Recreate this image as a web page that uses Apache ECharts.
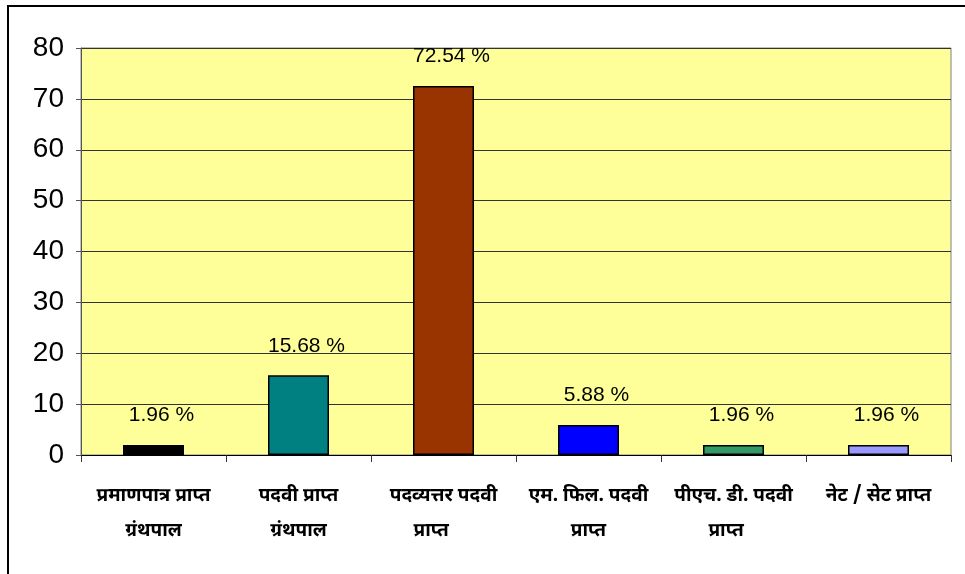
<!DOCTYPE html>
<html><head><meta charset="utf-8">
<script src="https://cdn.jsdelivr.net/npm/echarts@6/dist/echarts.min.js"></script>
<style>html,body{margin:0;padding:0;background:#fff}#c{width:965px;height:574px}</style>
</head><body><div id="c"></div>
<script>
const categories = ['प्रमाणपात्र प्राप्त\nग्रंथपाल', 'पदवी प्राप्त\nग्रंथपाल', 'पदव्यत्तर पदवी\nप्राप्त     ', 'एम. फिल. पदवी\nप्राप्त', 'पीएच. डी. पदवी\nप्राप्त   ', 'नेट / सेट प्राप्त'];
const values = [1.96, 15.68, 72.54, 5.88, 1.96, 1.96];
const barColors = ['#000000', '#008080', '#993300', '#0000FF', '#339966', '#9999FF'];
const yTicks = {min: 0, max: 80, interval: 10};

const chart = echarts.init(document.getElementById('c'), null, {renderer: 'canvas'});
chart.setOption({
  animation: false,
  graphic: [{type: 'rect', shape: {x: 8, y: 6, width: 1200, height: 1200}, style: {fill: 'none', stroke: '#000', lineWidth: 2}, z: 100}],
  grid: {left: 81, top: 48, right: 14, bottom: 119, show: true, backgroundColor: '#FFFF99', borderColor: '#808080', borderWidth: 1},
  xAxis: {
    type: 'category', data: categories,
    axisLine: {lineStyle: {color: '#000', width: 1}},
    axisTick: {show: true, alignWithLabel: false, length: 7, lineStyle: {color: '#333'}},
    axisLabel: {interval: 0, margin: 25, color: '#000', fontSize: 19, fontWeight: 'bold', lineHeight: 35,
      fontFamily: '"Noto Sans Devanagari", "Lohit Devanagari", "Noto Sans", sans-serif'}
  },
  yAxis: {
    type: 'value', min: yTicks.min, max: yTicks.max, interval: yTicks.interval,
    axisLine: {show: true, lineStyle: {color: '#555'}},
    axisTick: {show: true, length: 5, lineStyle: {color: '#555'}},
    splitLine: {lineStyle: {color: '#333', width: 1}},
    axisLabel: {color: '#000', fontSize: 28, margin: 17, fontFamily: '"Liberation Sans", Arial, sans-serif'}
  },
  series: [{
    type: 'bar', barWidth: 61,
    data: values.map((v, i) => ({value: v, itemStyle: {color: barColors[i]}})),
    itemStyle: {borderColor: '#000', borderWidth: 1.5},
    label: {show: true, position: 'top', distance: 19, offset: [8, 0], color: '#000', fontSize: 21,
      fontFamily: '"Liberation Sans", Arial, sans-serif', formatter: p => p.value.toFixed(2) + ' %'}
  }]
});
</script></body></html>
